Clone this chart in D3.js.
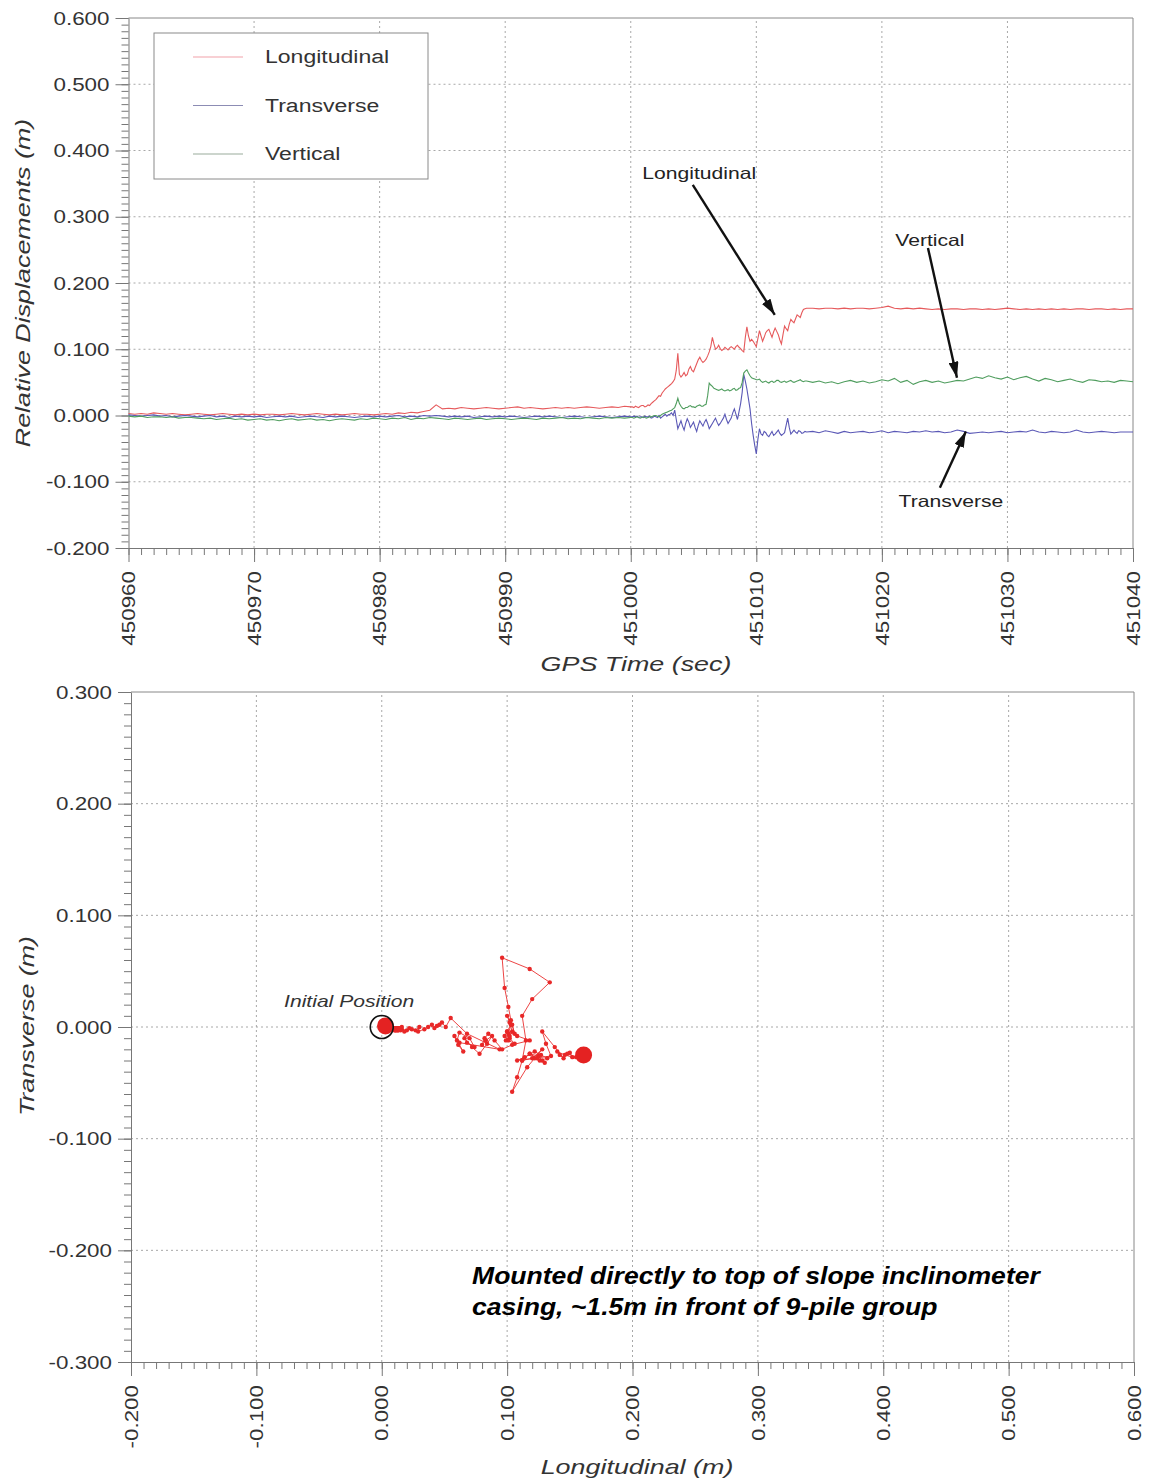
<!DOCTYPE html>
<html>
<head>
<meta charset="utf-8">
<script src="https://cdn.jsdelivr.net/npm/d3@7"></script>
<style>
  body { margin: 0; background: #fff; }
  svg { display: block; }
</style>
</head>
<body>
<script>
// sample clock: 0.5 s before the motion, 0.125 s during it, 0.5 s after
var gpsTime = [].concat(
    d3.range(450960, 451000.001, 0.5),
    d3.range(451000.125, 451014.001, 0.125),
    d3.range(451014.5, 451040.001, 0.5));

// relative displacements (m)
var longitudinal = [
    0.003,0.002,0.003,0.002,0.004,0.003,0.002,0.003,0.002,0.001,
    0.002,0.003,0.002,0.001,0.002,0.003,0.002,0.001,0.002,0.001,
    0.002,0.001,0.002,0.002,0.001,0.002,0.003,0.002,0.001,0.002,
    0.003,0.002,0.001,0.002,0.001,0.002,0.003,0.002,0.002,0.001,
    0.002,0.003,0.002,0.004,0.003,0.005,0.004,0.006,0.008,0.016,
    0.010,0.011,0.010,0.012,0.011,0.010,0.011,0.012,0.011,0.010,
    0.011,0.012,0.013,0.011,0.012,0.011,0.010,0.011,0.012,0.011,
    0.012,0.011,0.012,0.013,0.012,0.011,0.012,0.013,0.012,0.014,
    0.013,
    0.013,0.012,0.014,0.013,0.012,0.014,0.015,0.015,
    0.013,0.014,0.016,0.015,0.018,0.020,0.022,0.024,
    0.027,0.030,0.029,0.034,0.037,0.040,0.042,0.044,
    0.046,0.048,0.051,0.055,0.068,0.094,0.062,0.058,
    0.061,0.065,0.060,0.062,0.070,0.074,0.068,0.066,
    0.072,0.078,0.084,0.088,0.083,0.080,0.082,0.085,
    0.090,0.096,0.104,0.118,0.108,0.100,0.102,0.106,
    0.101,0.098,0.100,0.103,0.101,0.099,0.102,0.104,
    0.102,0.100,0.104,0.106,0.103,0.101,0.098,0.096,
    0.118,0.134,0.120,0.112,0.115,0.112,0.108,0.104,
    0.116,0.128,0.120,0.112,0.118,0.125,0.128,0.130,
    0.124,0.118,0.126,0.132,0.127,0.122,0.114,0.108,
    0.122,0.135,0.131,0.128,0.138,0.145,0.142,0.140,
    0.146,0.152,0.150,0.148,0.155,0.160,0.161,0.162,
    0.162,0.161,0.162,0.162,0.161,0.162,0.161,0.162,0.162,0.161,
    0.162,0.163,0.165,0.162,0.161,0.162,0.161,0.162,0.161,0.160,
    0.161,0.160,0.161,0.161,0.160,0.161,0.161,0.160,0.161,0.160,
    0.161,0.162,0.161,0.160,0.161,0.160,0.161,0.160,0.161,0.160,
    0.161,0.160,0.161,0.161,0.160,0.161,0.161,0.160,0.161,0.160,
    0.161,0.161
];

var transverse = [
    0.001,0.000,-0.001,0.000,0.001,-0.001,0.000,-0.002,-0.001,0.000,
    -0.001,-0.002,-0.001,0.000,-0.002,-0.001,-0.003,-0.001,-0.002,-0.001,
    -0.002,-0.001,-0.003,-0.002,-0.001,-0.002,-0.001,-0.003,-0.002,-0.001,
    -0.002,-0.003,-0.001,-0.002,-0.001,-0.002,-0.003,-0.002,-0.001,-0.002,
    -0.001,-0.002,-0.001,0.000,-0.002,-0.001,-0.002,0.000,-0.001,0.000,
    -0.001,-0.002,-0.001,-0.002,-0.001,-0.003,-0.002,-0.001,-0.002,-0.001,
    -0.002,-0.001,-0.002,-0.003,-0.002,-0.001,-0.002,-0.001,-0.002,-0.003,
    -0.002,-0.001,-0.002,-0.003,-0.002,-0.001,-0.002,-0.003,-0.002,-0.001,
    -0.002,
    -0.002,-0.001,-0.002,-0.001,-0.003,-0.002,-0.002,-0.003,
    -0.001,-0.002,-0.002,-0.001,-0.004,-0.003,-0.001,-0.002,
    -0.003,0.000,-0.004,-0.002,0.000,0.002,-0.001,0.001,
    0.002,0.004,0.000,0.008,-0.006,-0.020,-0.014,-0.008,
    -0.016,-0.022,-0.012,-0.005,-0.010,-0.018,-0.014,-0.010,
    -0.018,-0.024,-0.015,-0.008,-0.012,-0.016,-0.010,-0.006,
    -0.012,-0.020,-0.016,-0.012,-0.008,-0.004,-0.010,-0.015,
    -0.012,-0.008,-0.004,0.002,-0.006,-0.012,-0.008,-0.004,
    0.004,0.010,0.002,-0.006,0.006,0.018,0.035,0.062,
    0.052,0.040,0.025,0.010,-0.012,-0.030,-0.045,-0.058,
    -0.036,-0.020,-0.028,-0.030,-0.024,-0.026,-0.030,-0.032,
    -0.028,-0.024,-0.030,-0.028,-0.025,-0.022,-0.027,-0.030,
    -0.028,-0.026,-0.015,-0.004,-0.018,-0.028,-0.025,-0.022,
    -0.025,-0.027,-0.023,-0.024,-0.027,-0.026,-0.024,-0.025,
    -0.024,-0.026,-0.023,-0.025,-0.027,-0.024,-0.026,-0.025,-0.024,-0.026,
    -0.025,-0.023,-0.026,-0.024,-0.025,-0.026,-0.024,-0.025,-0.023,-0.025,
    -0.024,-0.026,-0.025,-0.022,-0.024,-0.027,-0.026,-0.025,-0.026,-0.025,
    -0.024,-0.026,-0.025,-0.024,-0.025,-0.022,-0.025,-0.026,-0.024,-0.025,
    -0.026,-0.025,-0.022,-0.025,-0.026,-0.025,-0.024,-0.025,-0.026,-0.025,
    -0.025,-0.025
];

var vertical = [
    -0.001,-0.002,-0.001,-0.003,-0.002,-0.002,-0.003,-0.002,-0.004,-0.003,
    -0.003,-0.004,-0.005,-0.004,-0.006,-0.005,-0.004,-0.006,-0.005,-0.007,
    -0.006,-0.005,-0.007,-0.006,-0.008,-0.006,-0.005,-0.007,-0.006,-0.005,
    -0.007,-0.006,-0.008,-0.006,-0.005,-0.006,-0.007,-0.005,-0.006,-0.004,
    -0.005,-0.006,-0.004,-0.005,-0.003,-0.006,-0.004,-0.005,-0.003,-0.004,
    -0.005,-0.006,-0.004,-0.005,-0.006,-0.005,-0.004,-0.006,-0.005,-0.004,
    -0.005,-0.006,-0.005,-0.004,-0.005,-0.006,-0.004,-0.005,-0.004,-0.003,
    -0.005,-0.004,-0.005,-0.003,-0.004,-0.005,-0.003,-0.004,-0.003,-0.004,
    -0.003,
    -0.003,-0.004,-0.003,-0.002,-0.003,-0.004,-0.003,-0.002,
    -0.003,-0.004,-0.003,-0.002,-0.002,-0.001,0.000,0.000,
    -0.001,-0.002,0.000,0.002,0.003,0.004,0.005,0.006,
    0.007,0.008,0.010,0.012,0.018,0.026,0.018,0.014,
    0.011,0.010,0.012,0.012,0.014,0.015,0.013,0.013,
    0.012,0.014,0.015,0.016,0.014,0.014,0.016,0.017,
    0.030,0.049,0.046,0.044,0.041,0.040,0.039,0.038,
    0.039,0.040,0.038,0.037,0.038,0.039,0.037,0.038,
    0.040,0.041,0.038,0.039,0.041,0.042,0.050,0.064,
    0.067,0.069,0.064,0.060,0.057,0.056,0.055,0.054,
    0.054,0.055,0.052,0.050,0.051,0.052,0.050,0.049,
    0.051,0.052,0.050,0.051,0.053,0.053,0.051,0.050,
    0.051,0.052,0.050,0.051,0.052,0.053,0.051,0.050,
    0.051,0.052,0.053,0.054,0.052,0.051,0.052,0.052,
    0.050,0.052,0.049,0.051,0.048,0.051,0.053,0.050,0.052,0.049,
    0.051,0.054,0.052,0.056,0.050,0.053,0.047,0.051,0.053,0.050,
    0.052,0.049,0.051,0.053,0.052,0.055,0.058,0.056,0.060,0.057,
    0.055,0.058,0.054,0.057,0.059,0.055,0.052,0.056,0.054,0.051,
    0.053,0.055,0.052,0.050,0.054,0.053,0.051,0.052,0.050,0.053,
    0.052,0.051
];

// tick labels
var timeTicks = [450960, 450970, 450980, 450990, 451000, 451010, 451020, 451030, 451040];
var dispTicks = [-0.2, -0.1, 0, 0.1, 0.2, 0.3, 0.4, 0.5, 0.6];
var longTicks = [-0.2, -0.1, 0, 0.1, 0.2, 0.3, 0.4, 0.5, 0.6];
var transTicks = [-0.3, -0.2, -0.1, 0, 0.1, 0.2, 0.3];

var seriesNames = ['Longitudinal', 'Transverse', 'Vertical'];
var seriesColors = ['#e65a5c', '#5a58b6', '#4f9d5e'];
var legendColors = ['#f2a2aa', '#8c8cb4', '#9aab9c'];

var SX = 1.28;   // lettering in the source is drawn wide
var FONT = "'Liberation Sans', Arial, sans-serif";

var svg = d3.select('body').append('svg')
    .attr('width', 1157)
    .attr('height', 1484);

function addText(parent, str, x, y, size, o) {
    o = o || {};
    return parent.append('text')
        .attr('transform', 'translate(' + x + ',' + y + ')' +
              (o.rotate ? ' rotate(' + o.rotate + ')' : '') +
              ' scale(' + (o.sx || SX) + ',1)')
        .attr('text-anchor', o.anchor || 'start')
        .attr('dy', o.dy || 0)
        .attr('font-family', FONT)
        .attr('font-size', size)
        .attr('font-style', o.italic ? 'italic' : 'normal')
        .attr('font-weight', o.bold ? 'bold' : 'normal')
        .attr('fill', o.fill || '#333')
        .text(str);
}

function fmt3(d) { return d.toFixed(3); }

// draws grid, frame, ticks and tick labels of one panel
function drawFrame(x, y, xTicks, yTicks, xMinor, yMinor, xFmt, yFmt) {
    var g = svg.append('g');
    var x0 = x.range()[0], x1 = x.range()[1];
    var y0 = y.range()[0], y1 = y.range()[1];

    // dotted grid
    g.append('g').selectAll('line')
        .data(xTicks.slice(1, -1)).join('line')
        .attr('x1', function (d) { return x(d); })
        .attr('x2', function (d) { return x(d); })
        .attr('y1', y0).attr('y2', y1);
    g.append('g').selectAll('line')
        .data(yTicks.slice(1, -1)).join('line')
        .attr('x1', x0).attr('x2', x1)
        .attr('y1', function (d) { return y(d); })
        .attr('y2', function (d) { return y(d); });
    g.selectAll('line')
        .attr('stroke', '#a8a8a8')
        .attr('stroke-width', 1)
        .attr('stroke-dasharray', '2,3');

    // top and right border
    g.append('path')
        .attr('d', 'M' + x0 + ',' + y1 + 'H' + x1 + 'V' + y0)
        .attr('fill', 'none')
        .attr('stroke', '#888');

    // y axis
    var yAx = g.append('g').attr('transform', 'translate(' + x0 + ',0)')
        .call(d3.axisLeft(y).tickValues(yTicks).tickSizeInner(13).tickSizeOuter(0).tickFormat(yFmt));
    yAx.append('g')
        .call(d3.axisLeft(y).tickValues(yMinor).tickSize(7).tickFormat(''))
        .call(function (s) { s.select('.domain').remove(); });

    // x axis
    var xAx = g.append('g').attr('transform', 'translate(0,' + y0 + ')')
        .call(d3.axisBottom(x).tickValues(xTicks).tickSizeInner(14).tickSizeOuter(0).tickFormat(xFmt));
    xAx.append('g')
        .call(d3.axisBottom(x).tickValues(xMinor).tickSize(7).tickFormat(''))
        .call(function (s) { s.select('.domain').remove(); });

    g.selectAll('.domain').attr('stroke', '#777');
    g.selectAll('.tick line').attr('stroke', '#777');

    yAx.selectAll('.tick text')
        .attr('x', null)
        .attr('dy', '0.35em')
        .attr('transform', 'translate(-19,0) scale(' + SX + ',1)')
        .attr('font-family', FONT).attr('font-size', 17.5).attr('fill', '#333');

    xAx.selectAll('.tick text')
        .attr('y', null)
        .attr('dy', '0.35em')
        .attr('text-anchor', 'end')
        .attr('transform', 'translate(0,23) rotate(-90) scale(' + SX + ',1)')
        .attr('font-family', FONT).attr('font-size', 17.5).attr('fill', '#333');
    return g;
}

// ---------- top panel: displacements vs GPS time ----------
var tX = d3.scaleLinear().domain([450960, 451040]).range([128.5, 1133]);
var tY = d3.scaleLinear().domain([-0.2, 0.6]).range([548, 18]);

drawFrame(tX, tY, timeTicks, dispTicks,
    d3.range(450960, 451041, 1), d3.range(-20, 61).map(function (i) { return i / 100; }),
    d3.format('d'), fmt3);

var timeLine = d3.line()
    .x(function (d, i) { return tX(gpsTime[i]); })
    .y(function (d) { return tY(d); });

[longitudinal, transverse, vertical].forEach(function (s, k) {
    svg.append('path')
        .datum(s)
        .attr('d', timeLine)
        .attr('fill', 'none')
        .attr('stroke', seriesColors[k])
        .attr('stroke-width', 1.1);
});

// legend
var leg = svg.append('g').attr('transform', 'translate(154,33)');
leg.append('rect').attr('width', 274).attr('height', 146)
    .attr('fill', '#fff').attr('stroke', '#8a8a8a');
seriesNames.forEach(function (n, k) {
    var yy = 24 + k * 48.5;
    leg.append('line').attr('x1', 39).attr('x2', 89).attr('y1', yy).attr('y2', yy)
        .attr('stroke', legendColors[k]).attr('stroke-width', 1.2);
    addText(leg, n, 111, yy, 18, { dy: '0.35em' });
});

// callout arrows
svg.append('defs').append('marker')
    .attr('id', 'head')
    .attr('viewBox', '0 0 16 10')
    .attr('refX', 16).attr('refY', 5)
    .attr('markerWidth', 16).attr('markerHeight', 10)
    .attr('markerUnits', 'userSpaceOnUse')
    .attr('orient', 'auto')
    .append('path').attr('d', 'M0,0L16,5L0,10Z').attr('fill', '#111');

var callouts = [
    { text: 'Longitudinal', at: [451005.45, 0.366], from: [451004.94, 0.348], to: [451011.47, 0.152] },
    { text: 'Vertical', at: [451023.82, 0.265], from: [451023.67, 0.253], to: [451025.98, 0.057] },
    { text: 'Transverse', at: [451025.5, -0.129], from: [451024.62, -0.109], to: [451026.69, -0.024] }
];
callouts.forEach(function (c) {
    svg.append('line')
        .attr('x1', tX(c.from[0])).attr('y1', tY(c.from[1]))
        .attr('x2', tX(c.to[0])).attr('y2', tY(c.to[1]))
        .attr('stroke', '#111').attr('stroke-width', 2.4)
        .attr('marker-end', 'url(#head)');
    addText(svg, c.text, tX(c.at[0]), tY(c.at[1]), 16.5, { anchor: 'middle', dy: '0.35em', fill: '#222' });
});

addText(svg, 'Relative Displacements (m)', 30, 283, 21, { rotate: -90, anchor: 'middle', italic: true });
addText(svg, 'GPS Time (sec)', 636, 671, 21, { anchor: 'middle', italic: true });

// ---------- bottom panel: plan-view track ----------
var pX = d3.scaleLinear().domain([-0.2, 0.6]).range([131, 1134]);
var pY = d3.scaleLinear().domain([-0.3, 0.3]).range([1362, 692]);

drawFrame(pX, pY, longTicks, transTicks,
    d3.range(-20, 61).map(function (i) { return i / 100; }),
    d3.range(-30, 31).map(function (i) { return i / 100; }),
    fmt3, fmt3);

var track = longitudinal.map(function (d, i) { return [d, transverse[i]]; });

svg.append('path')
    .datum(track)
    .attr('d', d3.line().x(function (d) { return pX(d[0]); }).y(function (d) { return pY(d[1]); }))
    .attr('fill', 'none')
    .attr('stroke', '#ea3030')
    .attr('stroke-width', 0.9);

svg.append('g').selectAll('circle')
    .data(track).join('circle')
    .attr('cx', function (d) { return pX(d[0]); })
    .attr('cy', function (d) { return pY(d[1]); })
    .attr('r', 2.2)
    .attr('fill', '#e82828');

// start and end positions
svg.append('g').selectAll('circle')
    .data([track[0], track[track.length - 1]]).join('circle')
    .attr('cx', function (d) { return pX(d[0]); })
    .attr('cy', function (d) { return pY(d[1]); })
    .attr('r', 8.5)
    .attr('fill', '#e42222');

svg.append('circle')
    .attr('cx', pX(0)).attr('cy', pY(0)).attr('r', 11.5)
    .attr('fill', 'none').attr('stroke', '#111').attr('stroke-width', 1.6);

addText(svg, 'Initial Position', pX(-0.026), pY(0.018), 16.5, { anchor: 'middle', italic: true, fill: '#333' });

addText(svg, 'Mounted directly to top of slope inclinometer', pX(0.072), 1284, 23, { bold: true, italic: true, fill: '#000', sx: 1.155 });
addText(svg, 'casing, ~1.5m in front of 9-pile group', pX(0.072), 1315, 23, { bold: true, italic: true, fill: '#000', sx: 1.155 });

addText(svg, 'Transverse (m)', 34, 1026, 21, { rotate: -90, anchor: 'middle', italic: true });
addText(svg, 'Longitudinal (m)', 637, 1474, 21, { anchor: 'middle', italic: true });
</script>
</body>
</html>
